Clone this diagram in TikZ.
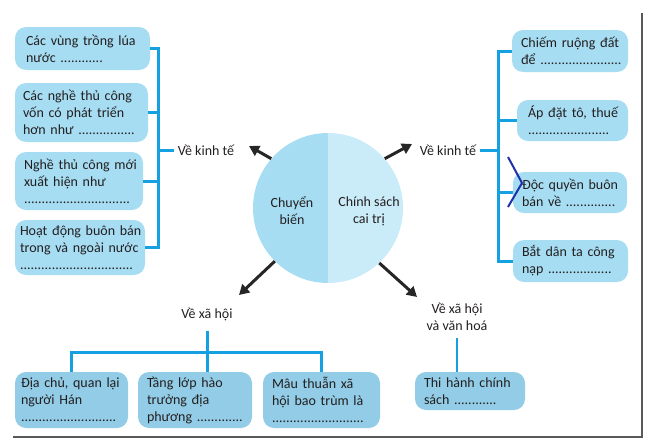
\documentclass[tikz,border=0pt]{standalone}
\usepackage{fontspec}
\setmainfont{Carlito}
\usetikzlibrary{arrows.meta}

\definecolor{boxblue}{RGB}{166,221,242}
\definecolor{boxdark}{RGB}{146,204,230}
\definecolor{linkblue}{RGB}{20,160,225}
\definecolor{halfleft}{RGB}{166,221,242}
\definecolor{halfright}{RGB}{202,235,248}
\definecolor{markblue}{RGB}{30,50,170}
\definecolor{inkgray}{RGB}{35,31,32}

\tikzset{
  box/.style={fill=boxblue, rounded corners=11pt, align=left, inner xsep=5pt, inner ysep=2pt,
    font=\fontsize{14}{17}\selectfont, text=inkgray},
  bbox/.style={box, fill=boxdark},
  link/.style={draw=linkblue, line width=3pt},
  head/.style={font=\fontsize{14}{17}\selectfont, text=inkgray, align=center},
  bigarrow/.style={-{Triangle[length=10pt,width=11pt]}, line width=3pt, draw=black!85},
}

\begin{document}
\begin{tikzpicture}[x=1pt,y=-1pt]
\useasboundingbox (0,0) rectangle (653,447);

% frame
\draw [gray!70!black, line width=2pt] (642,13) -- (642,437) -- (13,437);

% centre circle
\node [circle, minimum size=150pt, inner sep=0] (c) at (328,208) {};
\begin{scope}
\clip (250,120) rectangle (328,300);
\fill [halfleft] (c.center) circle [radius=75pt];
\end{scope}
\begin{scope}
\clip (328,120) rectangle (410,300);
\fill [halfright] (c.center) circle [radius=75pt];
\end{scope}
\node [head] (cl) at (292,211) {Chuyển\\biến};
\node [head] (cr) at (369,211) {Chính sách\\cai trị};

% arrows
\coordinate (aKL) at (249,146);
\coordinate (aKR) at (412,144);
\coordinate (aXL) at (239,295);
\coordinate (aXR) at (417,297);
\draw [bigarrow] (c.139) -- (aKL);
\draw [bigarrow] (c.41) -- (aKR);
\draw [bigarrow] (c.225) -- (aXL);
\draw [bigarrow] (c.-47) -- (aXR);

% left: ve kinh te
\node [box, text width=125pt, minimum height=43pt] (k1) at (82.5,48.5) {\mbox{\hspace*{6pt}Các vùng trồng lúa}\\\mbox{\hspace*{6pt}nước ............}};
\node [box, text width=123pt, minimum height=59pt] (k2) at (81.5,112.5) {\mbox{\hspace*{3pt}Các nghề thủ công}\\\mbox{\hspace*{3pt}vốn có phát triển}\\\mbox{\hspace*{3pt}hơn như ................}};
\node [box, text width=118pt, minimum height=58pt] (k3) at (79,181) {\mbox{\hspace*{4pt}Nghề thủ công mới}\\\mbox{\hspace*{4pt}xuất hiện như}\\\mbox{\hspace*{4pt}..............................}};
\node [box, text width=120pt, minimum height=55pt] (k4) at (80,247.5) {\mbox{Hoạt động buôn bán}\\\mbox{trong và ngoài nước}\\\mbox{................................}};
\node [head] (kl) at (206,150) {Về kinh tế};
\coordinate (kj) at (158,150);
\foreach \b in {k1,k2,k3,k4}
  \draw [link] (\b.east) -| (kj);
\draw [link] (kj) -- (kl.west);

% right: ve kinh te
\node [box, text width=106pt, minimum height=42pt] (r1) at (570,51) {\mbox{\hspace*{4pt}Chiếm ruộng đất}\\\mbox{\hspace*{4pt}để .......................}};
\node [box, text width=101pt, minimum height=41pt] (r2) at (572.5,120.5) {\mbox{\hspace*{6pt}Áp đặt tô, thuế}\\\mbox{\hspace*{6pt}.......................}};
\node [box, text width=104pt, minimum height=41pt] (r3) at (570,192.5) {\mbox{\hspace*{4pt}Độc quyền buôn}\\\mbox{\hspace*{4pt}bán về ..............}};
\node [box, text width=105pt, minimum height=42pt] (r4) at (570.5,261) {\mbox{\hspace*{4pt}Bắt dân ta công}\\\mbox{\hspace*{4pt}nạp ..................}};
\node [head] (kr) at (448,150) {Về kinh tế};
\coordinate (rj) at (498,150);
\foreach \b in {r1,r2,r3,r4}
  \draw [link] (rj) |- (\b.west);
\draw [link] (kr.east) -- (rj);
\draw [markblue, line width=2pt] (508,157) -- (522,183) -- (508,207);

% bottom left: ve xa hoi
\node [bbox, text width=103pt, minimum height=56pt] (x1) at (71.5,400) {\mbox{\hspace*{1pt}Địa chủ, quan lại}\\\mbox{\hspace*{1pt}người Hán}\\\mbox{\hspace*{1pt}...........................}};
\node [bbox, text width=104pt, minimum height=56pt] (x2) at (195,400) {\mbox{\hspace*{4pt}Tầng lớp hào}\\\mbox{\hspace*{4pt}trưởng địa}\\\mbox{\hspace*{4pt}phương .............}};
\node [bbox, text width=107pt, minimum height=56pt] (x3) at (321.5,400) {\mbox{\hspace*{4pt}Mâu thuẫn xã}\\\mbox{\hspace*{4pt}hội bao trùm là}\\\mbox{\hspace*{4pt}..........................}};
\node [head] (xl) at (207,314) {Về xã hội};
\coordinate (xj) at (207,352);
\draw [link, shorten <=7pt] (xl.south) -- (xl.south |- x2.north);
\draw [link] (xj) -| (x1.north);
\draw [link] (xj) -| (x3.north);

% bottom right: ve xa hoi va van hoa
\node [bbox, text width=100pt, minimum height=38pt] (v1) at (470,391) {\mbox{\hspace*{4pt}Thi hành chính}\\\mbox{\hspace*{4pt}sách ............}};
\node [head] (vl) at (457,317) {Về xã hội\\và văn hoá};
\draw [link, line width=2pt, shorten <=4pt] (vl.south) -- (vl.south |- v1.north);

\end{tikzpicture}
\end{document}
